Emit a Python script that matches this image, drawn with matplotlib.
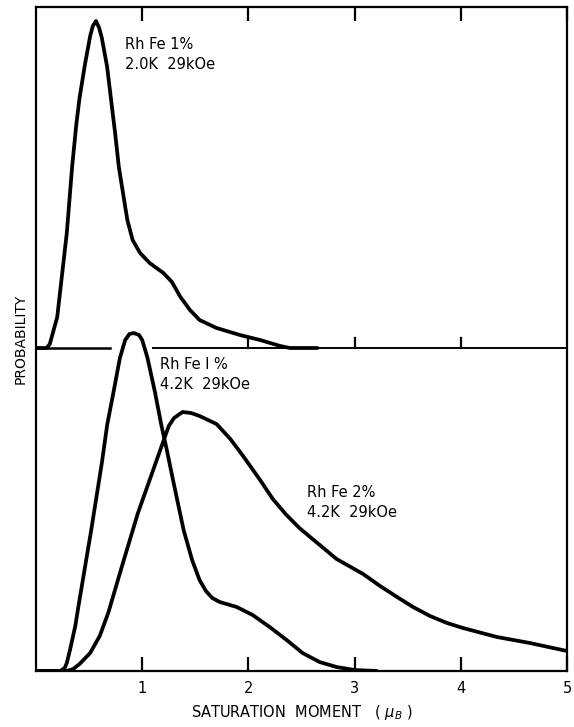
import numpy as np
import matplotlib.pyplot as plt

# RhFe 1%, 2.0 K, 29 kOe (upper panel, heights above its own baseline)
x_up = [0.0, 0.10, 0.13, 0.20, 0.29, 0.34, 0.38, 0.41, 0.46, 0.51, 0.535, 0.565, 0.595,
        0.62, 0.67, 0.705, 0.745, 0.78, 0.86, 0.91, 0.98, 1.07, 1.20, 1.28, 1.36,
        1.45, 1.54, 1.70, 1.92, 2.11, 2.30, 2.39, 2.65]
p_up = [0, 0, 4, 31, 115, 181, 224, 250, 283, 312, 322, 327, 320,
        310, 281, 250, 215, 181, 128, 108, 95, 85, 75, 66, 51,
        38, 28, 20, 13, 8, 2, 0, 0]

# RhFe 1%, 4.2 K, 29 kOe (lower panel)
x_1 = [0.0, 0.23, 0.27, 0.29, 0.32, 0.37, 0.40, 0.52, 0.62, 0.67, 0.73, 0.79, 0.84,
       0.88, 0.92, 0.97, 1.00, 1.05, 1.12, 1.18, 1.23, 1.29, 1.39, 1.47, 1.54,
       1.60, 1.66, 1.73, 1.89, 2.04, 2.20, 2.36, 2.51, 2.67, 2.83, 3.00, 3.21]
p_1 = [0, 0, 3, 8, 21, 45, 65, 141, 208, 246, 279, 313, 331,
       337, 338, 336, 331, 313, 279, 246, 222, 191, 141, 111, 91,
       80, 73, 69, 64, 56, 44, 31, 18, 9, 4, 1, 0]

# RhFe 2%, 4.2 K, 29 kOe (lower panel)
x_2 = [0.0, 0.29, 0.35, 0.41, 0.51, 0.60, 0.68, 0.81, 0.96, 1.12, 1.20, 1.25, 1.30,
       1.38, 1.46, 1.54, 1.70, 1.83, 1.95, 2.11, 2.23, 2.35, 2.48, 2.83, 3.08,
       3.24, 3.40, 3.55, 3.71, 3.87, 4.02, 4.34, 4.65, 5.0]
p_2 = [0, 0, 2, 7, 18, 35, 58, 105, 158, 206, 230, 245, 253,
       259, 258, 255, 247, 232, 215, 191, 172, 157, 143, 112, 97,
       85, 74, 64, 55, 48, 43, 34, 28, 20]

ticks = [1, 2, 3, 4, 5]
mid_ticks = [2, 3, 4]

base_up = 323   # baseline of the upper panel
ytop = 664

fig = plt.figure(figsize=(5.74, 7.27), dpi=100)
ax = fig.add_axes([36 / 574, 1 - 671 / 727, 531 / 574, 664 / 727])
ax.set_xlim(0, 5)
ax.set_ylim(0, ytop)

lw = 2.7
ax.plot(x_up, np.array(p_up) + base_up, color='black', lw=lw,
        solid_joinstyle='round', solid_capstyle='round')
ax.plot(x_1, p_1, color='black', lw=lw, solid_joinstyle='round', solid_capstyle='round')
ax.plot(x_2, p_2, color='black', lw=lw, solid_joinstyle='round', solid_capstyle='round')

# divider between the panels (broken where the lower peak passes through)
ax.plot([0, 0.70], [base_up, base_up], color='black', lw=1.8)
ax.plot([1.10, 5], [base_up, base_up], color='black', lw=1.4)
for t in mid_ticks:
    ax.plot([t, t], [base_up, base_up + 10], color='black', lw=1.6)

for s in ax.spines.values():
    s.set_linewidth(1.6)

ax.set_xticks(ticks)
ax.set_xticklabels([str(t) for t in ticks], fontsize=10.5)
ax.set_yticks([])
ax.tick_params(axis='x', direction='in', length=10, width=1.6, top=True, pad=7)

ax.set_xlabel(r'SATURATION  MOMENT   ( $\mu_B$ )', fontsize=10.5, labelpad=5)
ax.set_ylabel('PROBABILITY', fontsize=10, labelpad=6)

ax.text(0.84, 634, 'Rh Fe 1%\n2.0K  29kOe', fontsize=10.5, va='top', linespacing=1.4)
ax.text(1.17, 314, 'Rh Fe l %\n4.2K  29kOe', fontsize=10.5, va='top', linespacing=1.4)
ax.text(2.55, 186, 'Rh Fe 2%\n4.2K  29kOe', fontsize=10.5, va='top', linespacing=1.4)

fig.savefig('out.png', dpi=100)
